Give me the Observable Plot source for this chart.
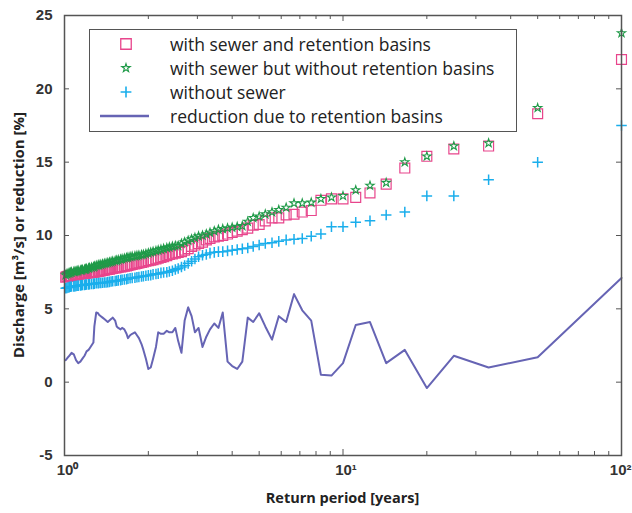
<!DOCTYPE html>
<html><head><meta charset="utf-8">
<script src="https://cdn.jsdelivr.net/npm/d3@7"></script>
<script src="https://cdn.jsdelivr.net/npm/@observablehq/plot@0.6"></script>
<style>
body{margin:0;background:#fff;}
#wrap{position:relative;width:632px;height:513px;}
#legend{position:absolute;left:89px;top:29px;width:428px;height:103px;box-sizing:border-box;border:1.5px solid #555;background:#fff;padding-top:2px;}
.row{display:flex;align-items:center;height:24px;}
.row svg{flex:none;}
.row span{font-family:"Open Sans",sans-serif;font-size:17.5px;color:#222;white-space:nowrap;}
</style>
</head><body>
<div id="wrap"></div>
<script>
// Return period (years) of each ranked value
const returnPeriod = [100,50,33.33,25,20,16.67,14.29,12.5,11.11,10,9.09,8.33,7.69,7.14,6.67,6.25,5.88,5.56,5.26,5,4.76,4.55,4.35,4.17,4,3.85,3.7,3.57,3.45,3.33,3.23,3.13,3.03,2.94,2.86,2.78,2.7,2.63,2.56,2.5,2.44,2.38,2.33,2.27,2.22,2.17,2.13,2.08,2.04,2,1.96,1.92,1.89,1.85,1.82,1.79,1.75,1.72,1.69,1.67,1.64,1.61,1.59,1.56,1.54,1.52,1.49,1.47,1.45,1.43,1.41,1.39,1.37,1.35,1.33,1.32,1.3,1.28,1.27,1.25,1.23,1.22,1.2,1.19,1.18,1.16,1.15,1.14,1.12,1.11,1.1,1.09,1.08,1.06,1.05,1.04,1.03,1.02,1.01];

// with sewer and retention basins [m3/s]
const withSewerAndRB = [22.0,18.3,16.1,15.9,15.4,14.6,13.5,12.9,12.6,12.5,12.5,12.4,11.7,11.6,11.45,11.4,11.2,11.2,11.0,10.75,10.7,10.5,10.4,10.3,10.2,10.1,10.0,9.95,9.9,9.8,9.7,9.55,9.45,9.35,9.25,9.1,9.0,8.9,8.85,8.8,8.75,8.7,8.62,8.55,8.5,8.45,8.4,8.35,8.32,8.28,8.24,8.2,8.17,8.13,8.1,8.06,8.03,8.0,7.95,7.93,7.9,7.88,7.86,7.83,7.81,7.78,7.76,7.73,7.71,7.68,7.66,7.63,7.61,7.59,7.57,7.55,7.53,7.5,7.49,7.48,7.46,7.45,7.44,7.43,7.42,7.4,7.39,7.38,7.36,7.35,7.33,7.32,7.3,7.28,7.26,7.24,7.22,7.2,7.15];

// with sewer but without retention basins [m3/s]
const withSewerNoRB = [23.8,18.7,16.3,16.1,15.4,15.0,13.6,13.4,13.1,12.7,12.6,12.5,12.25,12.2,12.2,11.9,11.75,11.6,11.45,11.3,11.2,10.95,10.65,10.6,10.55,10.5,10.45,10.4,10.3,10.2,10.1,10.0,9.95,9.85,9.75,9.65,9.55,9.45,9.3,9.3,9.25,9.2,9.15,9.1,9.05,9.0,8.95,8.9,8.85,8.8,8.75,8.7,8.68,8.65,8.62,8.6,8.57,8.55,8.5,8.47,8.44,8.4,8.37,8.33,8.3,8.27,8.24,8.2,8.17,8.14,8.1,8.08,8.05,8.02,8.0,7.97,7.95,7.9,7.85,7.82,7.79,7.76,7.73,7.7,7.68,7.66,7.64,7.62,7.6,7.58,7.56,7.54,7.52,7.5,7.47,7.44,7.41,7.37,7.3];

// without sewer [m3/s]
const withoutSewer = [17.5,15.0,13.8,12.7,12.7,11.6,11.4,11.0,10.9,10.6,10.6,10.1,9.95,9.8,9.75,9.7,9.6,9.5,9.45,9.35,9.25,9.15,9.1,9.05,9.0,8.95,8.9,8.9,8.85,8.8,8.7,8.65,8.55,8.4,8.25,8.1,7.95,7.85,7.75,7.68,7.6,7.55,7.5,7.48,7.45,7.4,7.38,7.35,7.3,7.28,7.25,7.22,7.2,7.17,7.15,7.12,7.1,7.08,7.05,7.02,7.0,6.98,6.96,6.94,6.92,6.9,6.88,6.86,6.84,6.82,6.8,6.79,6.78,6.77,6.76,6.75,6.74,6.72,6.7,6.69,6.68,6.67,6.66,6.65,6.63,6.62,6.61,6.6,6.58,6.57,6.56,6.55,6.53,6.52,6.5,6.48,6.46,6.43,6.4];

// reduction due to retention basins [%]
const reduction = [7.1,1.7,1.0,1.8,-0.4,2.2,1.3,4.1,3.9,1.3,0.45,0.5,4.2,4.9,6.0,4.1,4.5,2.9,3.8,4.7,4.1,4.4,1.4,0.9,1.1,1.4,4.75,3.7,4.0,3.6,3.1,2.4,3.7,3.4,4.5,5.1,4.2,2.0,2.8,3.7,3.4,3.4,3.5,3.3,3.3,3.4,2.4,1.6,1.0,0.9,1.6,2.2,2.6,3.0,3.2,3.4,3.3,3.2,3.0,3.3,3.6,3.7,3.6,3.7,3.8,4.2,4.4,4.3,4.2,4.1,4.2,4.3,4.4,4.5,4.6,4.7,4.75,3.8,2.7,2.5,2.3,2.2,2.1,1.95,1.8,1.6,1.5,1.4,1.3,1.4,1.5,1.7,1.9,2.0,1.9,1.8,1.7,1.6,1.5];

const yTicks = [-5,0,5,10,15,20,25];
const xMajorTicks = [1,10,100];
const xMinorTicks = [2,3,4,5,6,7,8,9,20,30,40,50,60,70,80,90];
const xTickText = {1:"10\u2070",10:"10\u00B9",100:"10\u00B2"};

const seriesNames = ["with sewer and retention basins","with sewer but without retention basins","without sewer","reduction due to retention basins"];
const colors = {pink:"#e8458c", green:"#1f9a48", cyan:"#1aaeec", line:"#6664b4"};

const data = returnPeriod.map((t,i)=>({T:t, rb:withSewerAndRB[i], norb:withSewerNoRB[i], nos:withoutSewer[i], red:reduction[i]}));

const W = 632, H = 513, mL = 64, mR = 11, mT = 15, mB = 58;
const fw = W - mL - mR, fh = H - mT - mB;
const tickLen = 5;
const tickFont = {fontFamily: "Liberation Sans, Arial, sans-serif", fontSize: 15, fontWeight: "bold", fill: "#333"};

const chart = Plot.plot({
  width: W, height: H,
  marginLeft: mL, marginRight: mR, marginTop: mT, marginBottom: mB,
  x: {type: "log", domain: [1, 100], axis: null},
  y: {domain: [-5, 25], axis: null},
  style: {background: "#fff"},
  marks: [
    Plot.axisY({ticks: yTicks, tickSize: 0, tickPadding: 12, label: null, tickFormat: d => String(d), ...tickFont}),
    Plot.text(xMajorTicks.slice(0, 2), {x: d => d, text: d => xTickText[d], frameAnchor: "bottom", lineAnchor: "top", dy: 9, dx: 3, ...tickFont}),
    Plot.text(xMajorTicks.slice(2), {x: d => d, text: d => xTickText[d], frameAnchor: "bottom", lineAnchor: "top", dy: 9, dx: 10, textAnchor: "end", ...tickFont}),
    Plot.ruleX(xMinorTicks, {x: d => d, insetTop: fh - 4, stroke: "#555"}),
    Plot.ruleX(xMinorTicks, {x: d => d, insetBottom: fh - 4, stroke: "#555"}),
    Plot.ruleX(xMajorTicks, {x: d => d, insetTop: fh - 6, stroke: "#555"}),
    Plot.ruleX(xMajorTicks, {x: d => d, insetBottom: fh - 6, stroke: "#555"}),
    Plot.ruleY(yTicks, {y: d => d, insetRight: fw - tickLen, stroke: "#555"}),
    Plot.ruleY(yTicks, {y: d => d, insetLeft: fw - tickLen, stroke: "#555"}),
    Plot.dot(data, {x: "T", y: "rb", symbol: "square2", r: 6.3, stroke: colors.pink, fill: "none", strokeWidth: 1.2}),
    Plot.dot(data, {x: "T", y: "norb", symbol: "star", r: 2.6, stroke: colors.green, fill: "none", strokeWidth: 1.1}),
    Plot.dot(data, {x: "T", y: "nos", symbol: "plus", r: 3.5, stroke: colors.cyan, fill: "none", strokeWidth: 1.5}),
    Plot.line(data, {x: "T", y: "red", stroke: colors.line, strokeWidth: 2}),
    Plot.frame({stroke: "#555", strokeWidth: 1.5})
  ]
});

const wrap = document.getElementById("wrap");
wrap.appendChild(chart);

const svg = d3.select(chart);
svg.append("text")
  .attr("transform", `translate(18,${mT + fh/2}) rotate(-90)`)
  .attr("text-anchor", "middle").attr("dominant-baseline", "central")
  .attr("font-family", "Open Sans, sans-serif").attr("font-size", 15).attr("font-weight", "bold").attr("fill", "#222")
  .text("Discharge [m\u00B3/s] or reduction [%]");
svg.append("text")
  .attr("x", mL + fw/2).attr("y", 497)
  .attr("text-anchor", "middle").attr("dominant-baseline", "central")
  .attr("font-family", "Open Sans, sans-serif").attr("font-size", 14.5).attr("font-weight", "bold").attr("fill", "#222")
  .text("Return period [years]");

// Legend
const legend = d3.select(wrap).append("div").attr("id", "legend");
const symDefs = [
  {type: d3.symbolSquare2, size: 140, color: colors.pink, w: 1.3},
  {type: d3.symbolStar, size: 22, color: colors.green, w: 1.1},
  {type: d3.symbolPlus, size: 40, color: colors.cyan, w: 1.6},
  null
];
seriesNames.forEach((name, i) => {
  const row = legend.append("div").attr("class", "row");
  const s = row.append("svg").attr("width", 80).attr("height", 24);
  if (symDefs[i]) {
    s.append("path").attr("transform", "translate(36,12)")
      .attr("d", d3.symbol(symDefs[i].type, symDefs[i].size)())
      .attr("fill", "none").attr("stroke", symDefs[i].color).attr("stroke-width", symDefs[i].w);
  } else {
    s.append("line").attr("x1", 10).attr("x2", 59).attr("y1", 12).attr("y2", 12)
      .attr("stroke", colors.line).attr("stroke-width", 2.5);
  }
  row.append("span").text(name);
});
</script>
</body></html>
